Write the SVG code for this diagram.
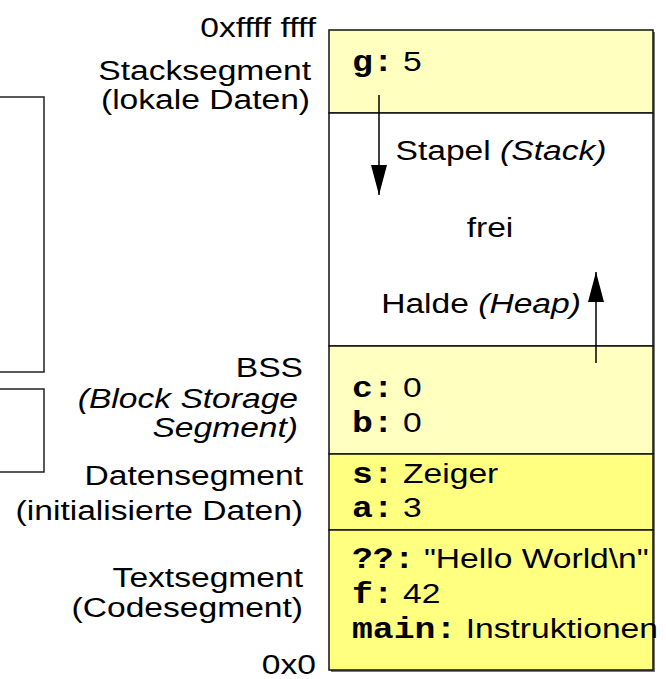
<svg xmlns="http://www.w3.org/2000/svg" width="666" height="679" viewBox="0 0 666 679">
<style>
text{font-family:"Liberation Sans",Arial,sans-serif;font-size:28px;fill:#000}
.i{font-style:italic}
.m{font-family:"Liberation Mono","Courier New",monospace;font-weight:bold;font-size:29px}
.seg{stroke:#111;stroke-width:1.5}
.light{fill:#ffffc0}
.bright{fill:#ffff80}
.free{fill:#ffffff}
.bracket{fill:none;stroke:#222;stroke-width:1.5}
.conn{stroke:#000;stroke-width:1.5;fill:none}
</style>
<defs>
<marker id="ah" markerUnits="userSpaceOnUse" markerWidth="30" markerHeight="16" refX="30" refY="8" orient="auto" viewBox="0 0 30 16">
<path d="M0,0 L30,8 L0,16 z" fill="#000"/>
</marker>
</defs>
<rect width="666" height="679" fill="#fff"/>

<g id="brackets">
<path class="bracket" d="M0,97 H44 V372 H0"/>
<path class="bracket" d="M0,389 H44 V472 H0"/>
</g>

<rect x="331" y="32" width="324" height="640" fill="#777"/>

<g id="stack-segment">
<rect class="seg light" x="329" y="30" width="324" height="83"/>
<text transform="translate(352,71) scale(1.2,1)"><tspan class="m">g:</tspan> 5</text>
</g>

<g id="free-area">
<rect class="seg free" x="329" y="113" width="324" height="233"/>
<text transform="translate(501,160) scale(1.2,1)" text-anchor="middle">Stapel <tspan class="i">(Stack)</tspan></text>
<text transform="translate(490,237) scale(1.2,1)" text-anchor="middle">frei</text>
<text transform="translate(481,313) scale(1.2,1)" text-anchor="middle">Halde <tspan class="i">(Heap)</tspan></text>
</g>

<g id="bss-segment">
<rect class="seg light" x="329" y="346" width="324" height="108"/>
<text transform="translate(352,397) scale(1.2,1)"><tspan class="m">c:</tspan> 0</text>
<text transform="translate(352,432) scale(1.2,1)"><tspan class="m">b:</tspan> 0</text>
</g>

<g id="data-segment">
<rect class="seg bright" x="329" y="454" width="324" height="76"/>
<text transform="translate(352,483) scale(1.2,1)"><tspan class="m">s:</tspan> Zeiger</text>
<text transform="translate(352,517) scale(1.2,1)"><tspan class="m">a:</tspan> 3</text>
</g>

<g id="text-segment">
<rect class="seg bright" x="329" y="530" width="324" height="140"/>
<text transform="translate(352,568) scale(1.2,1)"><tspan class="m">??:</tspan> "Hello World\n"</text>
<text transform="translate(352,603) scale(1.2,1)"><tspan class="m">f:</tspan> 42</text>
<text transform="translate(352,638) scale(1.2,1)"><tspan class="m">main:</tspan> Instruktionen</text>
</g>

<g id="labels" text-anchor="end">
<text transform="translate(316,37) scale(1.2,1)">0xffff ffff</text>
<text transform="translate(311,80) scale(1.2,1)">Stacksegment</text>
<text transform="translate(310,109) scale(1.2,1)">(lokale Daten)</text>
<text transform="translate(303,377) scale(1.2,1)">BSS</text>
<text class="i" transform="translate(298,408) scale(1.2,1)">(Block Storage</text>
<text class="i" transform="translate(298,437) scale(1.2,1)">Segment)</text>
<text transform="translate(303,485) scale(1.2,1)">Datensegment</text>
<text transform="translate(303,520) scale(1.2,1)">(initialisierte Daten)</text>
<text transform="translate(303,587) scale(1.2,1)">Textsegment</text>
<text transform="translate(303,617) scale(1.2,1)">(Codesegment)</text>
<text transform="translate(316,674) scale(1.2,1)">0x0</text>
</g>

<g id="connectors">
<line class="conn" x1="379" y1="95" x2="379" y2="195" marker-end="url(#ah)"/>
<line class="conn" x1="596" y1="363" x2="596" y2="272" marker-end="url(#ah)"/>
</g>
</svg>
